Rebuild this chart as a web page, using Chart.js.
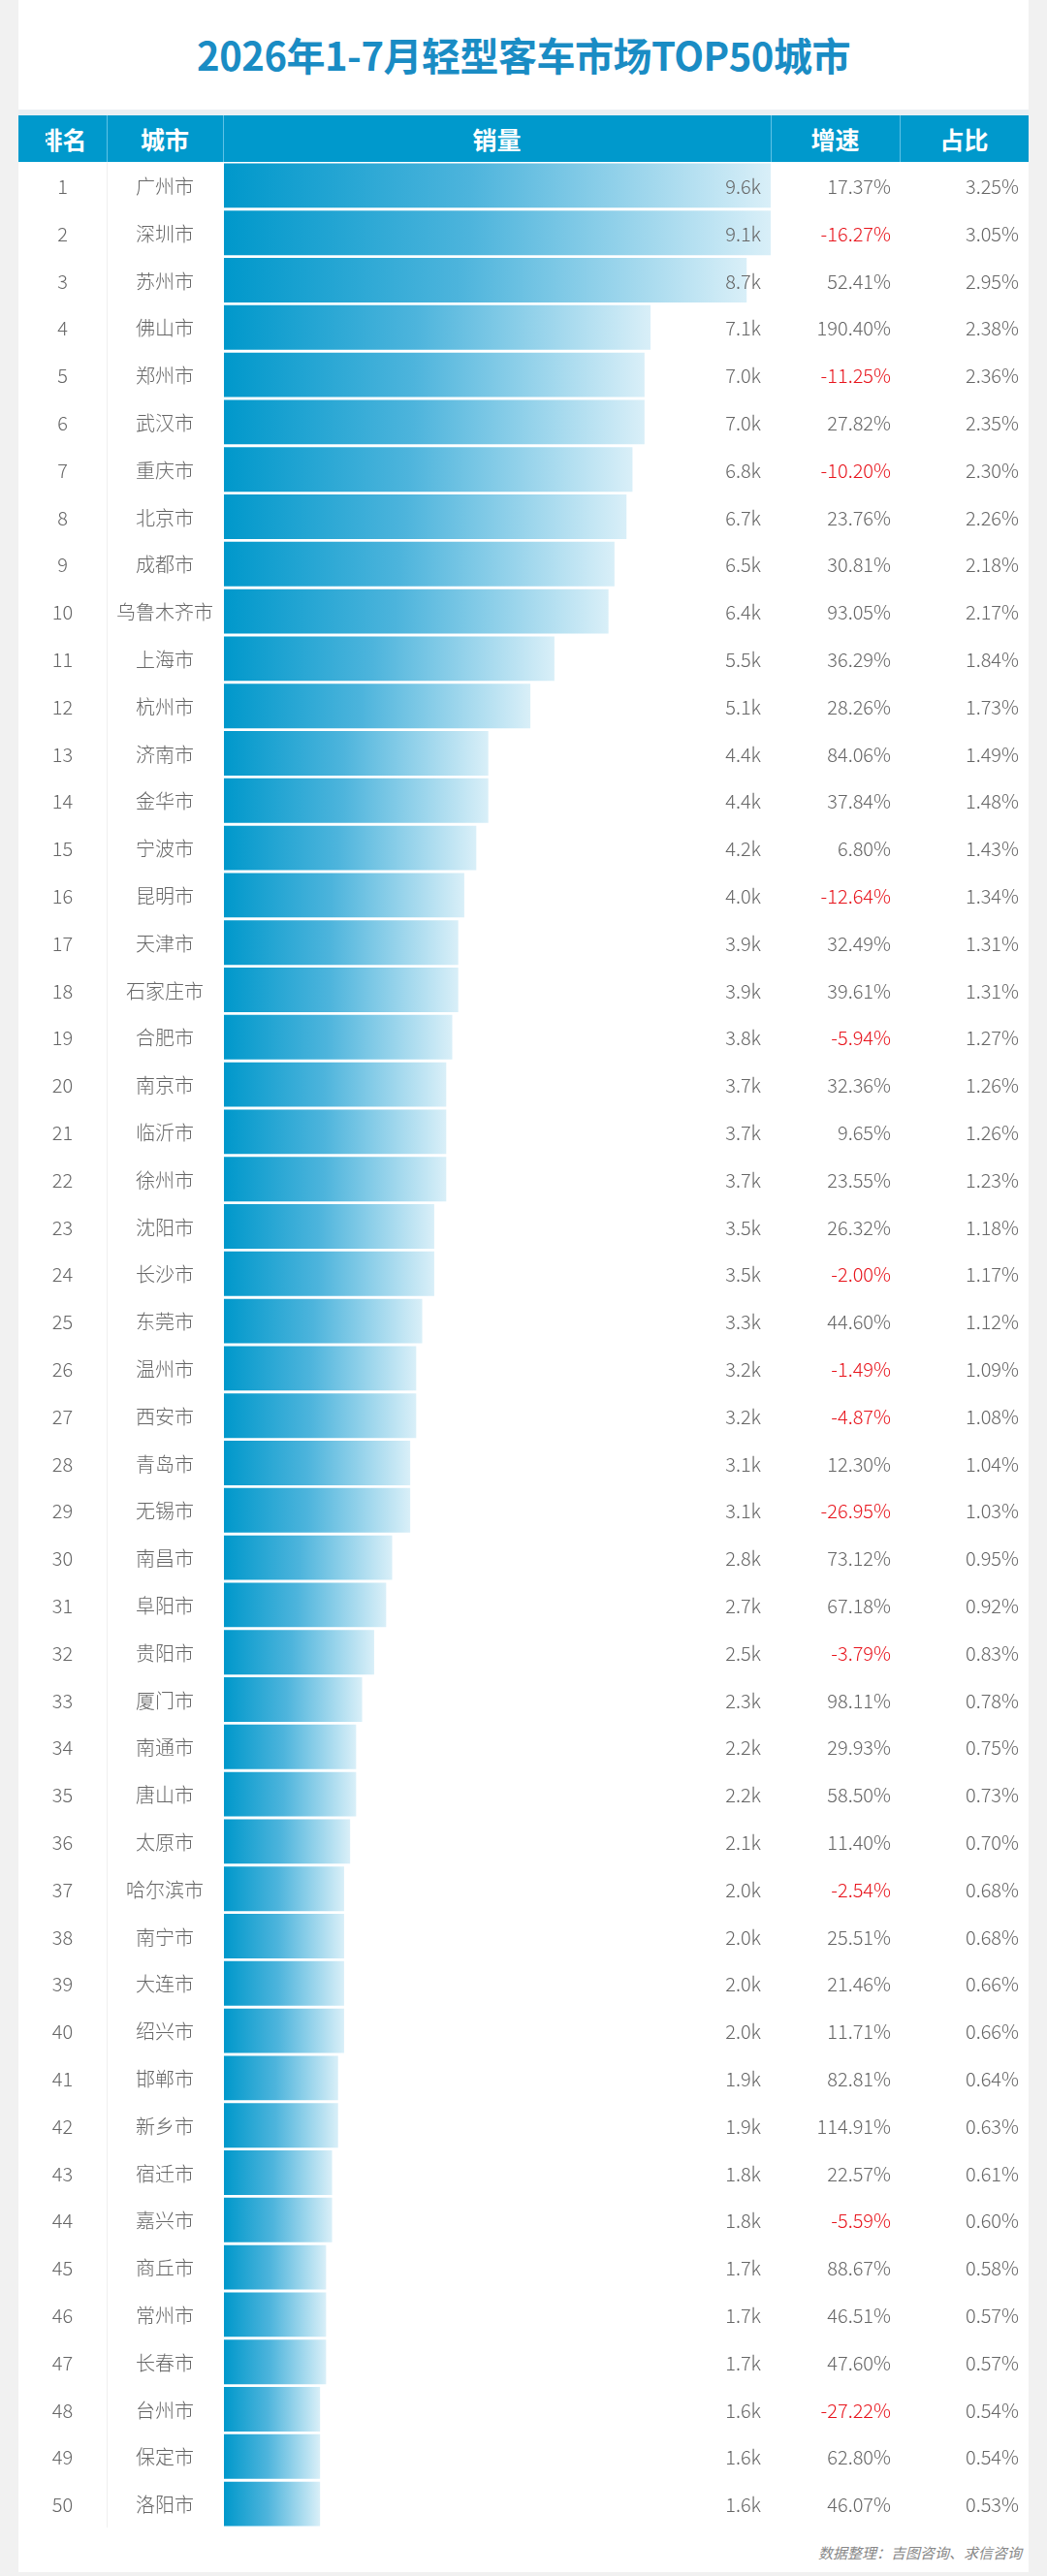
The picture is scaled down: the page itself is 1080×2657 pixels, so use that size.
<!DOCTYPE html>
<html>
<head>
<meta charset="utf-8">
<script src="https://cdn.jsdelivr.net/npm/chart.js@4.4.1/dist/chart.umd.min.js"></script>
<style>
  html, body { margin: 0; padding: 0; }
  body { width: 1080px; height: 2657px; background: #f1f1f1; position: relative; overflow: hidden;
         font-family: 'Noto Sans CJK SC', 'Noto Sans', sans-serif; }
  #card { position: absolute; left: 19px; top: 0; width: 1042px; height: 2653px; background: #fff; }
  #title { position: absolute; left: 0; top: 0; width: 1042px; height: 113px; line-height: 113px;
           text-align: center; font-size: 40px; font-weight: 700; color: #1a8cc4; letter-spacing: -0.5px; }
  #gap { position: absolute; left: 0; top: 113px; width: 1042px; height: 6px; background: #eaeff3; }
  #head { position: absolute; left: 0; top: 119px; width: 1042px; height: 48px; background: #0099cc; }
  .hc { position: absolute; top: 0; height: 48px; line-height: 48px; text-align: center;
        color: #fff; font-size: 25px; font-weight: 700; }
  .hl { position: absolute; top: 0; width: 1px; height: 48px; background: #5ec2e6; }
  #wrap { position: absolute; left: 0; top: 167px; width: 1042px; height: 2440px; }
  #foot { position: absolute; right: 7px; top: 2622px; font-size: 15px; font-style: italic; color: #888; }
</style>
</head>
<body>
<div id="card">
  <div id="title">2026年1-7月轻型客车市场TOP50城市</div>
  <div id="gap"></div>
  <div id="head">
    <div class="hc" style="left:28px;width:63px;overflow:hidden;"><div style="width:91px;margin-left:-28px;">排名</div></div>
    <div class="hc" style="left:91px;width:120px;">城市</div>
    <div class="hc" style="left:211px;width:565px;">销量</div>
    <div class="hc" style="left:776px;width:133px;">增速</div>
    <div class="hc" style="left:909px;width:133px;">占比</div>
    <div class="hl" style="left:91px;"></div>
    <div class="hl" style="left:211px;"></div>
    <div class="hl" style="left:776px;"></div>
    <div class="hl" style="left:909px;"></div>
  </div>
  <div id="wrap"><canvas id="chart"></canvas></div>
  <div id="foot">数据整理：吉图咨询、求信咨询</div>
</div>

<script>
// 2026年1-7月 轻型客车 TOP50 城市
var cities = ["广州市", "深圳市", "苏州市", "佛山市", "郑州市", "武汉市", "重庆市", "北京市", "成都市", "乌鲁木齐市",
              "上海市", "杭州市", "济南市", "金华市", "宁波市", "昆明市", "天津市", "石家庄市", "合肥市", "南京市",
              "临沂市", "徐州市", "沈阳市", "长沙市", "东莞市", "温州市", "西安市", "青岛市", "无锡市", "南昌市",
              "阜阳市", "贵阳市", "厦门市", "南通市", "唐山市", "太原市", "哈尔滨市", "南宁市", "大连市", "绍兴市",
              "邯郸市", "新乡市", "宿迁市", "嘉兴市", "商丘市", "常州市", "长春市", "台州市", "保定市", "洛阳市"];

// 销量 (辆)
var sales = [9600, 9100, 8700, 7100, 7000, 7000, 6800, 6700, 6500, 6400,
             5500, 5100, 4400, 4400, 4200, 4000, 3900, 3900, 3800, 3700,
             3700, 3700, 3500, 3500, 3300, 3200, 3200, 3100, 3100, 2800,
             2700, 2500, 2300, 2200, 2200, 2100, 2000, 2000, 2000, 2000,
             1900, 1900, 1800, 1800, 1700, 1700, 1700, 1600, 1600, 1600];

// 增速 (%)
var growth = [17.37, -16.27, 52.41, 190.40, -11.25, 27.82, -10.20, 23.76, 30.81, 93.05,
              36.29, 28.26, 84.06, 37.84, 6.80, -12.64, 32.49, 39.61, -5.94, 32.36,
              9.65, 23.55, 26.32, -2.00, 44.60, -1.49, -4.87, 12.30, -26.95, 73.12,
              67.18, -3.79, 98.11, 29.93, 58.50, 11.40, -2.54, 25.51, 21.46, 11.71,
              82.81, 114.91, 22.57, -5.59, 88.67, 46.51, 47.60, -27.22, 62.80, 46.07];

// 占比 (%)
var share = [3.25, 3.05, 2.95, 2.38, 2.36, 2.35, 2.30, 2.26, 2.18, 2.17,
             1.84, 1.73, 1.49, 1.48, 1.43, 1.34, 1.31, 1.31, 1.27, 1.26,
             1.26, 1.23, 1.18, 1.17, 1.12, 1.09, 1.08, 1.04, 1.03, 0.95,
             0.92, 0.83, 0.78, 0.75, 0.73, 0.70, 0.68, 0.68, 0.66, 0.66,
             0.64, 0.63, 0.61, 0.60, 0.58, 0.57, 0.57, 0.54, 0.54, 0.53];

var xMax = 9100;
var txtFont = "300 20px 'Noto Sans CJK SC', 'Noto Sans', sans-serif";

function barGradient(context) {
    var chart = context.chart;
    var area = chart.chartArea;
    if (!area) return '#0099cc';
    var xs = chart.scales.x;
    var v = Math.min(context.raw, xMax);
    var x0 = xs.getPixelForValue(0);
    var x1 = xs.getPixelForValue(v);
    var g = chart.ctx.createLinearGradient(x0, 0, x1, 0);
    g.addColorStop(0, '#0098cb');
    g.addColorStop(0.45, '#4db4dc');
    g.addColorStop(1, '#d9eff8');
    return g;
}

var tableText = {
    id: 'tableText',
    beforeDatasetsDraw: function (chart) {
        var ctx = chart.ctx;
        var a = chart.chartArea;
        ctx.save();
        ctx.fillStyle = '#f0f0f0';
        ctx.fillRect(91, a.top, 1, a.bottom - a.top);
        ctx.restore();
    },
    afterDatasetsDraw: function (chart) {
        var ctx = chart.ctx;
        var a = chart.chartArea;
        var ys = chart.scales.y;
        ctx.save();
        ctx.font = txtFont;
        ctx.textBaseline = 'middle';
        for (var i = 0; i < cities.length; i++) {
            var y = ys.getPixelForValue(i) + 1;
            ctx.fillStyle = '#666';
            ctx.textAlign = 'center';
            ctx.fillText(String(i + 1), 45.5, y);
            ctx.fillText(cities[i], 151, y);
            ctx.textAlign = 'right';
            ctx.fillText((sales[i] / 1000).toFixed(1) + 'k', a.right - 10, y);
            ctx.fillStyle = growth[i] < 0 ? '#e8141c' : '#666';
            ctx.fillText(growth[i].toFixed(2) + '%', 900, y);
            ctx.fillStyle = '#666';
            ctx.fillText(share[i].toFixed(2) + '%', 1032, y);
        }
        ctx.restore();
    }
};

var ctx = document.getElementById('chart').getContext('2d');
new Chart(ctx, {
    type: 'bar',
    data: {
        labels: cities,
        datasets: [{
            label: '销量',
            data: sales,
            backgroundColor: barGradient,
            borderWidth: 0,
            barPercentage: 0.94,
            categoryPercentage: 1.0,
            clip: 0
        }]
    },
    options: {
        indexAxis: 'y',
        responsive: true,
        maintainAspectRatio: false,
        animation: false,
        layout: { padding: { left: 212, right: 266, top: 0, bottom: 0 } },
        scales: {
            x: { display: false, min: 0, max: xMax },
            y: { display: false }
        },
        plugins: {
            legend: { display: false },
            tooltip: { enabled: false }
        }
    },
    plugins: [tableText]
});
</script>
</body>
</html>
